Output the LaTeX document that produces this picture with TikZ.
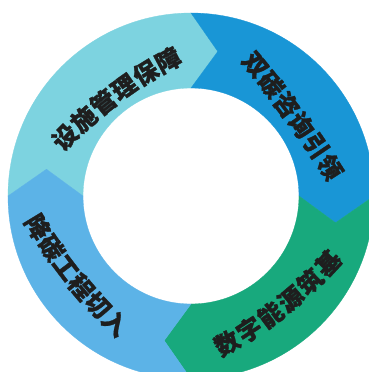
\documentclass[tikz,border=0pt]{standalone}
\usepackage{fontspec}
\newfontfamily\cjk{Noto Sans CJK SC}[BoldFeatures={FakeBold=1.2}]
\definecolor{segcyan}{HTML}{7DD3E0}
\definecolor{segblue}{HTML}{1996D6}
\definecolor{seggreen}{HTML}{18A97D}
\definecolor{seglight}{HTML}{5CB3E7}
\definecolor{txt}{HTML}{1E1E1E}
\begin{document}
\begin{tikzpicture}[x=1pt,y=1pt,
  ch/.style={font=\cjk\bfseries\fontsize{24.5}{24.5}\selectfont, text=txt, inner sep=0pt, anchor=center},
  seg/.style={fill=#1, draw=#1, line width=0.3pt}]
\useasboundingbox (-191,-176) rectangle (178,196);
\clip (-191,-176) rectangle (178,196);
\fill[white] (-191,-176) rectangle (178,196);
% ring segments (arrows pointing clockwise)
\path[seg=segcyan] (180:183) arc[start angle=180,end angle=90,radius=183] -- (79.5:147) -- (90:108) arc[start angle=90,end angle=180,radius=108] -- (169.5:147) -- cycle;
\path[seg=segblue] (90:183) arc[start angle=90,end angle=0,radius=183] -- (-10.5:147) -- (0:108) arc[start angle=0,end angle=90,radius=108] -- (79.5:147) -- cycle;
\path[seg=seggreen] (0:183) arc[start angle=0,end angle=-90,radius=183] -- (-100.5:147) -- (-90:108) arc[start angle=-90,end angle=0,radius=108] -- (-10.5:147) -- cycle;
\path[seg=seglight] (270:183) arc[start angle=270,end angle=180,radius=183] -- (169.5:147) -- (180:108) arc[start angle=180,end angle=270,radius=108] -- (259.5:147) -- cycle;
% labels
\foreach \c/\x/\y/\r [count=\i] in {设/-126/59/45.6, 施/-107.3/77.0/42.1, 管/-87.7/93.6/38.6, 理/-67.1/109.0/35.0, 保/-45.5/123.2/31.5, 障/-23/136/28.0}
  \node[ch, rotate=\r] (ta\i) at (\x,\y) {\c};
\foreach \c/\x/\y/\r [count=\i] in {双/64/131/-50.1, 碳/80/111.4/-51.5, 咨/95.5/91.3/-53.0, 询/110.5/70.9/-54.4, 引/125/50.2/-55.9, 领/139/29/-57.3}
  \node[ch, rotate=\r] (tb\i) at (\x,\y) {\c};
\foreach \c/\x/\y/\r [count=\i] in {数/36/-147/29.6, 字/58.2/-133.5/33.1, 能/79.4/-118.8/36.6, 源/99.6/-102.8/40.2, 筑/118.8/-85.5/43.7, 基/137/-67/47.2}
  \node[ch, rotate=\r] (tc\i) at (\x,\y) {\c};
\foreach \c/\x/\y/\r [count=\i] in {降/-153/-31/-58.7, 碳/-139.6/-51.8/-55.8, 工/-125.2/-71.8/-52.8, 程/-109.8/-91.0/-49.8, 切/-93.4/-109.4/-46.8, 入/-76/-127/-43.9}
  \node[ch, rotate=\r] (td\i) at (\x,\y) {\c};
\end{tikzpicture}
\end{document}
